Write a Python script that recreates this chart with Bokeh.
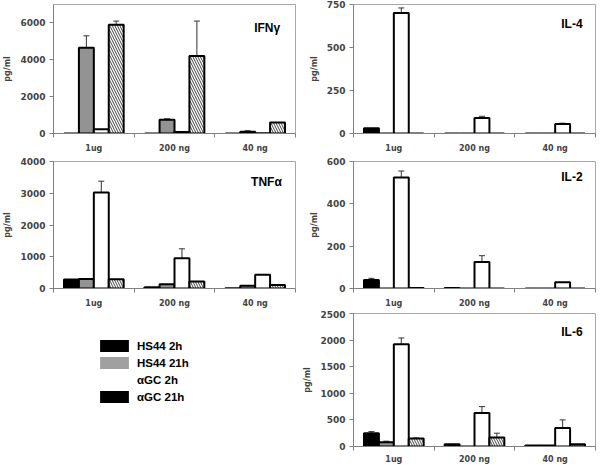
from bokeh.plotting import figure
from bokeh.models import (ColumnDataSource, FixedTicker, Range1d, Label, Whisker,
                          TeeHead, Legend, LegendItem)
from bokeh.layouts import row, column
from bokeh.embed import file_html
from bokeh.resources import INLINE

doses = ["1ug", "200 ng", "40 ng"]
series = ["HS44 2h", "HS44 21h", "\u03b1GC 2h", "\u03b1GC 21h"]

# values per series (HS44 2h, HS44 21h, aGC 2h, aGC 21h), each over doses
ifng_vals = [[0, 0, 0], [4650, 750, 100], [230, 80, 20], [5900, 4200, 600]]
ifng_err = [[0, 0, 0], [650, 50, 50], [0, 0, 0], [200, 1900, 0]]

il4_vals = [[30, 0, 0], [0, 0, 0], [700, 90, 55], [0, 0, 0]]
il4_err = [[0, 0, 0], [0, 0, 0], [30, 10, 5], [0, 0, 0]]

tnfa_vals = [[280, 40, 10], [300, 130, 90], [3020, 950, 430], [290, 220, 110]]
tnfa_err = [[0, 0, 0], [0, 0, 0], [360, 300, 0], [0, 0, 0]]

il2_vals = [[40, 2, 0], [0, 0, 0], [525, 125, 30], [2, 0, 0]]
il2_err = [[8, 0, 0], [0, 0, 0], [30, 30, 0], [0, 0, 0]]

il6_vals = [[250, 40, 20], [80, 0, 20], [1920, 630, 350], [150, 170, 40]]
il6_err = [[30, 0, 0], [20, 0, 0], [120, 120, 150], [10, 80, 0]]

TICK_FONT = "DejaVu Sans"
BAR_W = 0.185
OFFSETS = [-1.5 * BAR_W, -0.5 * BAR_W, 0.5 * BAR_W, 1.5 * BAR_W]
FILLS = ["black", "#939393", "white", "white"]
HATCH = [None, None, None, "\\"]


def panel(vals, errs, ymax, step, title, tx, ty, height, bt, bb, xstand=6):
    p = figure(width=300, height=height, x_range=Range1d(0, 3), y_range=Range1d(0, ymax),
               output_backend="svg", toolbar_location=None,
               min_border_left=49, min_border_right=5, min_border_top=bt, min_border_bottom=bb)
    p.grid.visible = False
    p.outline_line_color = "#a8a8a8"
    p.background_fill_color = "white"
    p.border_fill_color = "white"

    for s in range(4):
        xs = [i + 0.5 + OFFSETS[s] for i in range(len(doses))]
        src = ColumnDataSource(dict(x=xs, top=vals[s]))
        kw = dict(x="x", top="top", width=BAR_W, bottom=0, source=src,
                  fill_color=FILLS[s], line_color="black", line_width=2)
        if HATCH[s]:
            kw.update(hatch_pattern=HATCH[s], hatch_color="#444444", hatch_scale=5,
                      hatch_weight=1)
        p.vbar(**kw)
        ex, lo, hi = [], [], []
        for i in range(len(doses)):
            if errs[s][i] > 0:
                ex.append(xs[i]); lo.append(vals[s][i]); hi.append(vals[s][i] + errs[s][i])
        if ex:
            wsrc = ColumnDataSource(dict(x=ex, lo=lo, hi=hi))
            w = Whisker(base="x", lower="lo", upper="hi", source=wsrc, dimension="height",
                        line_color="#333333", line_width=1,
                        upper_head=TeeHead(size=6, line_color="#333333", line_width=1),
                        lower_head=None)
            p.add_layout(w)

    xa = p.xaxis[0]
    xa.ticker = FixedTicker(ticks=[i + 0.5 for i in range(len(doses))],
                            minor_ticks=list(range(len(doses) + 1)))
    xa.major_label_overrides = {i + 0.5: d for i, d in enumerate(doses)}
    xa.major_tick_out = 0
    xa.major_tick_in = 0
    xa.minor_tick_out = 4
    xa.minor_tick_in = 0
    xa.axis_line_color = "#808080"
    xa.minor_tick_line_color = "#808080"
    xa.major_label_text_font = TICK_FONT
    xa.major_label_text_font_style = "bold"
    xa.major_label_text_font_size = "8px"
    xa.major_label_standoff = xstand

    ya = p.yaxis[0]
    ya.ticker = FixedTicker(ticks=list(range(0, ymax + 1, step)), minor_ticks=[])
    ya.major_tick_out = 4
    ya.major_tick_in = 0
    ya.minor_tick_out = 0
    ya.minor_tick_in = 0
    ya.axis_line_color = "#808080"
    ya.major_tick_line_color = "#808080"
    ya.major_label_text_font = TICK_FONT
    ya.major_label_text_font_style = "bold"
    ya.major_label_text_font_size = "9px"
    ya.major_label_standoff = 4
    ya.axis_label = "pg/ml"
    ya.axis_label_text_font = TICK_FONT
    ya.axis_label_text_font_style = "bold"
    ya.axis_label_text_font_size = "8px"
    ya.axis_label_standoff = 5

    p.add_layout(Label(x=tx, y=ymax * ty, text=title, text_align="right",
                       text_baseline="middle", text_font="Liberation Sans",
                       text_font_style="bold", text_font_size="12px", text_color="black"))
    return p


H1, H2, H3 = 155, 155, 156

f_ifn = panel(ifng_vals, ifng_err, 7000, 2000, "IFN\u03b3", 2.81, 0.815, H1, 4, 22)
f_il4 = panel(il4_vals, il4_err, 750, 250, "IL-4", 2.84, 0.85, H1, 4, 22)
f_tnf = panel(tnfa_vals, tnfa_err, 4000, 1000, "TNF\u03b1", 2.83, 0.835, H2, 6, 22)
f_il2 = panel(il2_vals, il2_err, 600, 200, "IL-2", 2.84, 0.88, H2, 6, 22)
f_il6 = panel(il6_vals, il6_err, 2500, 500, "IL-6", 2.84, 0.86, H3, 3, 18, xstand=4)

# legend panel
f_leg = figure(width=300, height=H3, output_backend="svg", toolbar_location=None,
               min_border=0, x_range=Range1d(0, 1), y_range=Range1d(0, 1))
f_leg.axis.visible = False
f_leg.grid.visible = False
f_leg.outline_line_color = None
leg_fills = ["black", "#a0a0a0", None, "black"]
items = []
for s in range(4):
    r = f_leg.vbar(x=[float("nan")], top=[float("nan")], width=0.1,
                   fill_color=leg_fills[s], line_color=None)
    items.append(LegendItem(label=series[s], renderers=[r]))
leg = Legend(items=items, location=(43, 62), orientation="vertical",
             glyph_width=36, glyph_height=15, label_height=15, spacing=2,
             label_standoff=5, padding=0, margin=0,
             border_line_color=None, background_fill_alpha=0,
             label_text_font="Liberation Sans", label_text_font_style="bold",
             label_text_font_size="11.5px", label_text_color="black")
f_leg.add_layout(leg)

layout = row(column(f_ifn, f_tnf, f_leg), column(f_il4, f_il2, f_il6))

open("out.html", "w").write(file_html(layout, INLINE))
